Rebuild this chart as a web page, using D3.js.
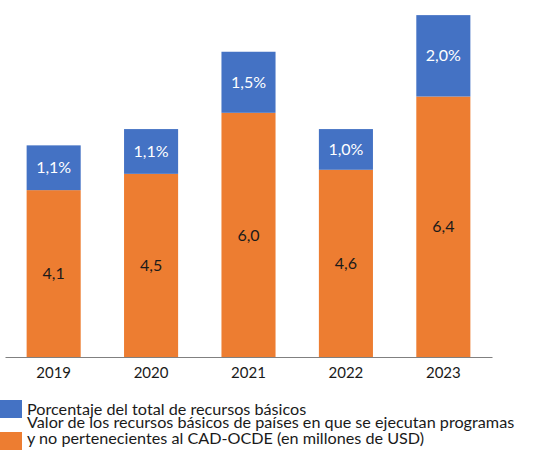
<!DOCTYPE html>
<html>
<head>
<meta charset="utf-8">
<script src="https://cdn.jsdelivr.net/npm/d3@7"></script>
<style>
  body { margin: 0; background: #fff; }
  svg text { font-family: Lato, 'Open Sans', sans-serif; }
</style>
</head>
<body>
<svg id="chart"></svg>
<script>
// data
let years = ['2019', '2020', '2021', '2022', '2023']
let valores = [4.1, 4.5, 6.0, 4.6, 6.4]
let porcentajes = [1.1, 1.1, 1.5, 1.0, 2.0]
let legendLabels = [
    ['Porcentaje del total de recursos básicos'],
    ['Valor de los recursos básicos de países en que se ejecutan programas',
     'y no pertenecientes al CAD-OCDE (en millones de USD)']
]

let width = 540
let height = 462
let baseline = 357

let blue = '#4472C4'
let orange = '#ED7D31'

let svg = d3.select('#chart')
    .attr('width', width)
    .attr('height', height)

let xScale = d3.scaleBand()
    .domain(years)
    .range([5, 492])
    .paddingInner(0.445)
    .paddingOuter(0.222)

let yScale = d3.scaleLinear()
    .domain([0, 9])
    .range([baseline, baseline - 9 * 40.7])

let fmt = (v) => v.toFixed(1).replace('.', ',')

let rows = years.map((y, i) => ({ year: y, valor: valores[i], pct: porcentajes[i] }))

// orange bottom segments
svg.selectAll('rect.valor')
    .data(rows)
    .enter()
    .append('rect')
    .attr('class', 'valor')
    .attr('x', d => xScale(d.year))
    .attr('width', xScale.bandwidth())
    .attr('y', d => yScale(d.valor))
    .attr('height', d => yScale(0) - yScale(d.valor))
    .attr('fill', orange)

// blue top segments
svg.selectAll('rect.pct')
    .data(rows)
    .enter()
    .append('rect')
    .attr('class', 'pct')
    .attr('x', d => xScale(d.year))
    .attr('width', xScale.bandwidth())
    .attr('y', d => yScale(d.valor + d.pct))
    .attr('height', d => yScale(d.valor) - yScale(d.valor + d.pct))
    .attr('fill', blue)

// labels
svg.selectAll('text.lv')
    .data(rows)
    .enter()
    .append('text')
    .attr('class', 'lv')
    .attr('x', d => xScale(d.year) + xScale.bandwidth() / 2)
    .attr('y', d => yScale(d.valor / 2))
    .attr('dy', '0.35em')
    .attr('text-anchor', 'middle')
    .attr('font-size', 16)
    .attr('fill', '#1a1a1a')
    .text(d => fmt(d.valor))

svg.selectAll('text.lp')
    .data(rows)
    .enter()
    .append('text')
    .attr('class', 'lp')
    .attr('x', d => xScale(d.year) + xScale.bandwidth() / 2)
    .attr('y', d => yScale(d.valor + d.pct / 2))
    .attr('dy', '0.35em')
    .attr('text-anchor', 'middle')
    .attr('font-size', 16)
    .attr('fill', '#ffffff')
    .text(d => fmt(d.pct) + '%')

// x axis
let xAxis = d3.axisBottom(xScale).tickSize(0).tickPadding(10)
let gx = svg.append('g')
    .attr('transform', 'translate(0,' + baseline + ')')
    .call(xAxis)
gx.select('.domain').attr('stroke', '#808080').attr('stroke-width', 1.2)
gx.selectAll('text')
    .attr('font-size', 15)
    .attr('fill', '#1a1a1a')
    .style('font-family', 'Lato, sans-serif')

// legend
let legendColors = [blue, orange]
let legendTops = [400, 432]
let textTops = [414.5, 428]
let lineH = 16.3
legendLabels.forEach((lines, i) => {
    svg.append('rect')
        .attr('x', 0)
        .attr('y', legendTops[i])
        .attr('width', 22)
        .attr('height', 18)
        .attr('fill', legendColors[i])
    let t = svg.append('text')
        .attr('x', 27)
        .attr('y', textTops[i])
        .attr('font-size', 16.2)
        .attr('fill', '#1a1a1a')
    lines.forEach((ln, j) => {
        t.append('tspan')
            .attr('x', 27)
            .attr('dy', j == 0 ? 0 : lineH)
            .text(ln)
    })
})
</script>
</body>
</html>
